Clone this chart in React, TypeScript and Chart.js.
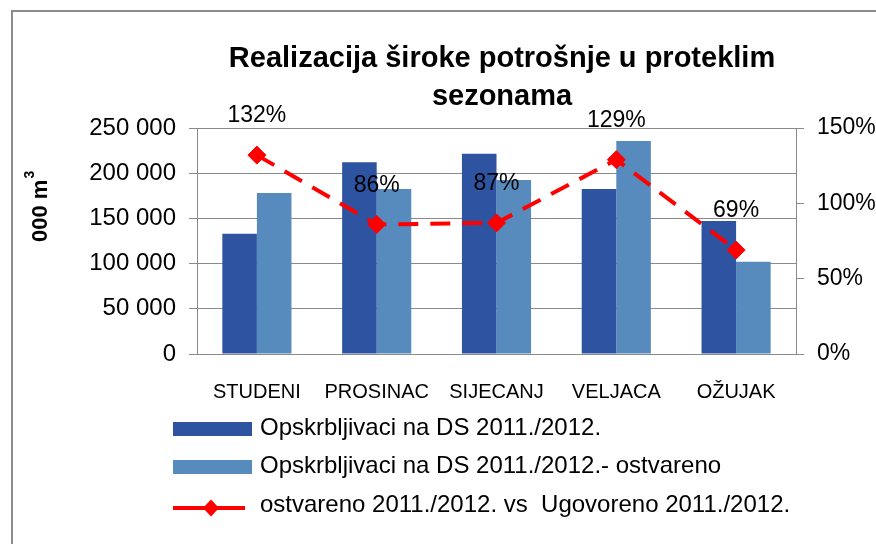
import React, { useEffect, useRef } from "react";
import { Chart, registerables } from "chart.js";

Chart.register(...registerables);

const categories = ["STUDENI", "PROSINAC", "SIJECANJ", "VELJACA", "OŽUJAK"];
const contracted = [133000, 212000, 221500, 182500, 147000];
const realized = [178000, 182500, 192500, 235500, 102000];
const ratioPct = [132, 86, 87, 129, 69];
const seriesNames = [
  "Opskrbljivaci na DS 2011./2012.",
  "Opskrbljivaci na DS 2011./2012.- ostvareno",
  "ostvareno 2011./2012. vs  Ugovoreno 2011./2012.",
];
const titleLines = ["Realizacija široke potrošnje u proteklim", "sezonama"];
const leftTicks = [0, 50000, 100000, 150000, 200000, 250000];
const rightTicks = [0, 50, 100, 150];

const DARK = "#2D53A1";
const LIGHT = "#588BBD";
const RED = "#FF0000";
const GRID = "#8A8A8A";
const FONT = '"Liberation Sans", Arial, sans-serif';

const fmtThousands = (v: number) =>
  String(Math.round(v)).replace(/\B(?=(\d{3})+(?!\d))/g, " ");

const decorPlugin = {
  id: "decor",
  beforeDraw(chart: any) {
    const ctx = chart.ctx;
    ctx.save();
    ctx.fillStyle = "#fff";
    ctx.fillRect(0, 0, chart.width, chart.height);
    ctx.strokeStyle = "#8C8C8C";
    ctx.lineWidth = 2;
    ctx.strokeRect(12, 11, chart.width + 20, chart.height + 20);
    ctx.restore();
  },
  afterDraw(chart: any) {
    const ctx = chart.ctx;
    ctx.save();
    // title
    ctx.fillStyle = "#000";
    ctx.textAlign = "center";
    ctx.textBaseline = "alphabetic";
    ctx.font = `bold 29px ${FONT}`;
    ctx.fillText(titleLines[0], 502, 67);
    ctx.fillText(titleLines[1], 502, 105);

    // y axis title (rotated)
    ctx.save();
    ctx.translate(47, 242);
    ctx.rotate(-Math.PI / 2);
    ctx.textAlign = "left";
    ctx.font = `bold 22px ${FONT}`;
    ctx.fillText("000 m", 0, 0);
    const w = ctx.measureText("000 m").width;
    ctx.font = `bold 14px ${FONT}`;
    ctx.fillText("3", w + 1, -13);
    ctx.restore();

    // data labels on the line
    const meta = chart.getDatasetMeta(2);
    ctx.font = `23px ${FONT}`;
    ctx.textAlign = "center";
    ctx.textBaseline = "middle";
    meta.data.forEach((pt: any, i: number) => {
      ctx.fillText(`${ratioPct[i]}%`, pt.x, pt.y - 39);
    });

    // legend
    ctx.font = `24px ${FONT}`;
    ctx.textAlign = "left";
    ctx.textBaseline = "alphabetic";
    const boxes = [422, 460];
    const baselines = [435, 473, 512];
    ctx.fillStyle = DARK;
    ctx.fillRect(173, boxes[0], 79, 14);
    ctx.fillStyle = LIGHT;
    ctx.fillRect(173, boxes[1], 79, 14);
    const ly = 508;
    ctx.strokeStyle = RED;
    ctx.lineWidth = 4;
    ctx.beginPath();
    ctx.moveTo(173, ly);
    ctx.lineTo(245, ly);
    ctx.stroke();
    ctx.fillStyle = RED;
    ctx.beginPath();
    ctx.moveTo(211, ly - 8.5);
    ctx.lineTo(219, ly);
    ctx.lineTo(211, ly + 8.5);
    ctx.lineTo(203, ly);
    ctx.closePath();
    ctx.fill();
    ctx.fillStyle = "#000";
    seriesNames.forEach((name, i) => ctx.fillText(name, 260, baselines[i]));
    ctx.restore();
  },
};

export default function App() {
  const ref = useRef<HTMLCanvasElement | null>(null);
  useEffect(() => {
    if (!ref.current) return;
    Chart.defaults.font.family = FONT;
    const chart = new Chart(ref.current, {
      type: "bar",
      data: {
        labels: categories,
        datasets: [
          {
            type: "bar",
            label: seriesNames[0],
            data: contracted,
            backgroundColor: DARK,
            yAxisID: "y",
            order: 2,
            barPercentage: 1,
            categoryPercentage: 0.577,
          },
          {
            type: "bar",
            label: seriesNames[1],
            data: realized,
            backgroundColor: LIGHT,
            yAxisID: "y",
            order: 2,
            barPercentage: 1,
            categoryPercentage: 0.577,
          },
          {
            type: "line",
            label: seriesNames[2],
            data: ratioPct,
            yAxisID: "y1",
            borderColor: RED,
            backgroundColor: RED,
            borderWidth: 4,
            borderDash: [20, 12],
            pointStyle: "rectRot",
            pointRadius: 9,
            pointBorderWidth: 1,
            pointBackgroundColor: RED,
            pointBorderColor: RED,
            fill: false,
            tension: 0,
            order: 0,
          } as any,
        ],
      },
      options: {
        responsive: false,
        animation: false,
        layout: { padding: { top: 128, left: 0, right: 0, bottom: 0 } },
        plugins: {
          legend: { display: false },
          title: { display: false },
          tooltip: { enabled: false },
        },
        scales: {
          x: {
            grid: { display: false },
            border: { display: true, color: GRID, width: 1 },
            ticks: { color: "#000", font: { size: 20 }, padding: 18, maxRotation: 0 },
            afterFit: (s: any) => {
              s.height = 190;
            },
          },
          y: {
            position: "left",
            min: 0,
            max: 250000,
            afterBuildTicks: (s: any) => {
              s.ticks = leftTicks.map((v) => ({ value: v }));
            },
            grid: { color: GRID, lineWidth: 1, tickLength: 8 },
            border: { display: true, color: GRID, width: 1 },
            ticks: {
              color: "#000",
              font: { size: 24 },
              padding: 13,
              callback: (v: any) => fmtThousands(Number(v)),
            },
            afterFit: (s: any) => {
              s.width = 197;
            },
          },
          y1: {
            position: "right",
            min: 0,
            max: 150,
            afterBuildTicks: (s: any) => {
              s.ticks = rightTicks.map((v) => ({ value: v }));
            },
            grid: { drawOnChartArea: false, color: GRID, tickLength: 8 },
            border: { display: true, color: GRID, width: 1 },
            ticks: {
              color: "#000",
              font: { size: 23 },
              padding: 13,
              callback: (v: any) => `${v}%`,
            },
            afterFit: (s: any) => {
              s.width = 80;
            },
          },
        },
      },
      plugins: [decorPlugin],
    });
    return () => chart.destroy();
  }, []);
  return (
    <div style={{ position: "absolute", left: 0, top: 0, width: 876, height: 544, background: "#fff" }}>
      <canvas ref={ref} width={876} height={544} style={{ display: "block" }} />
    </div>
  );
}
